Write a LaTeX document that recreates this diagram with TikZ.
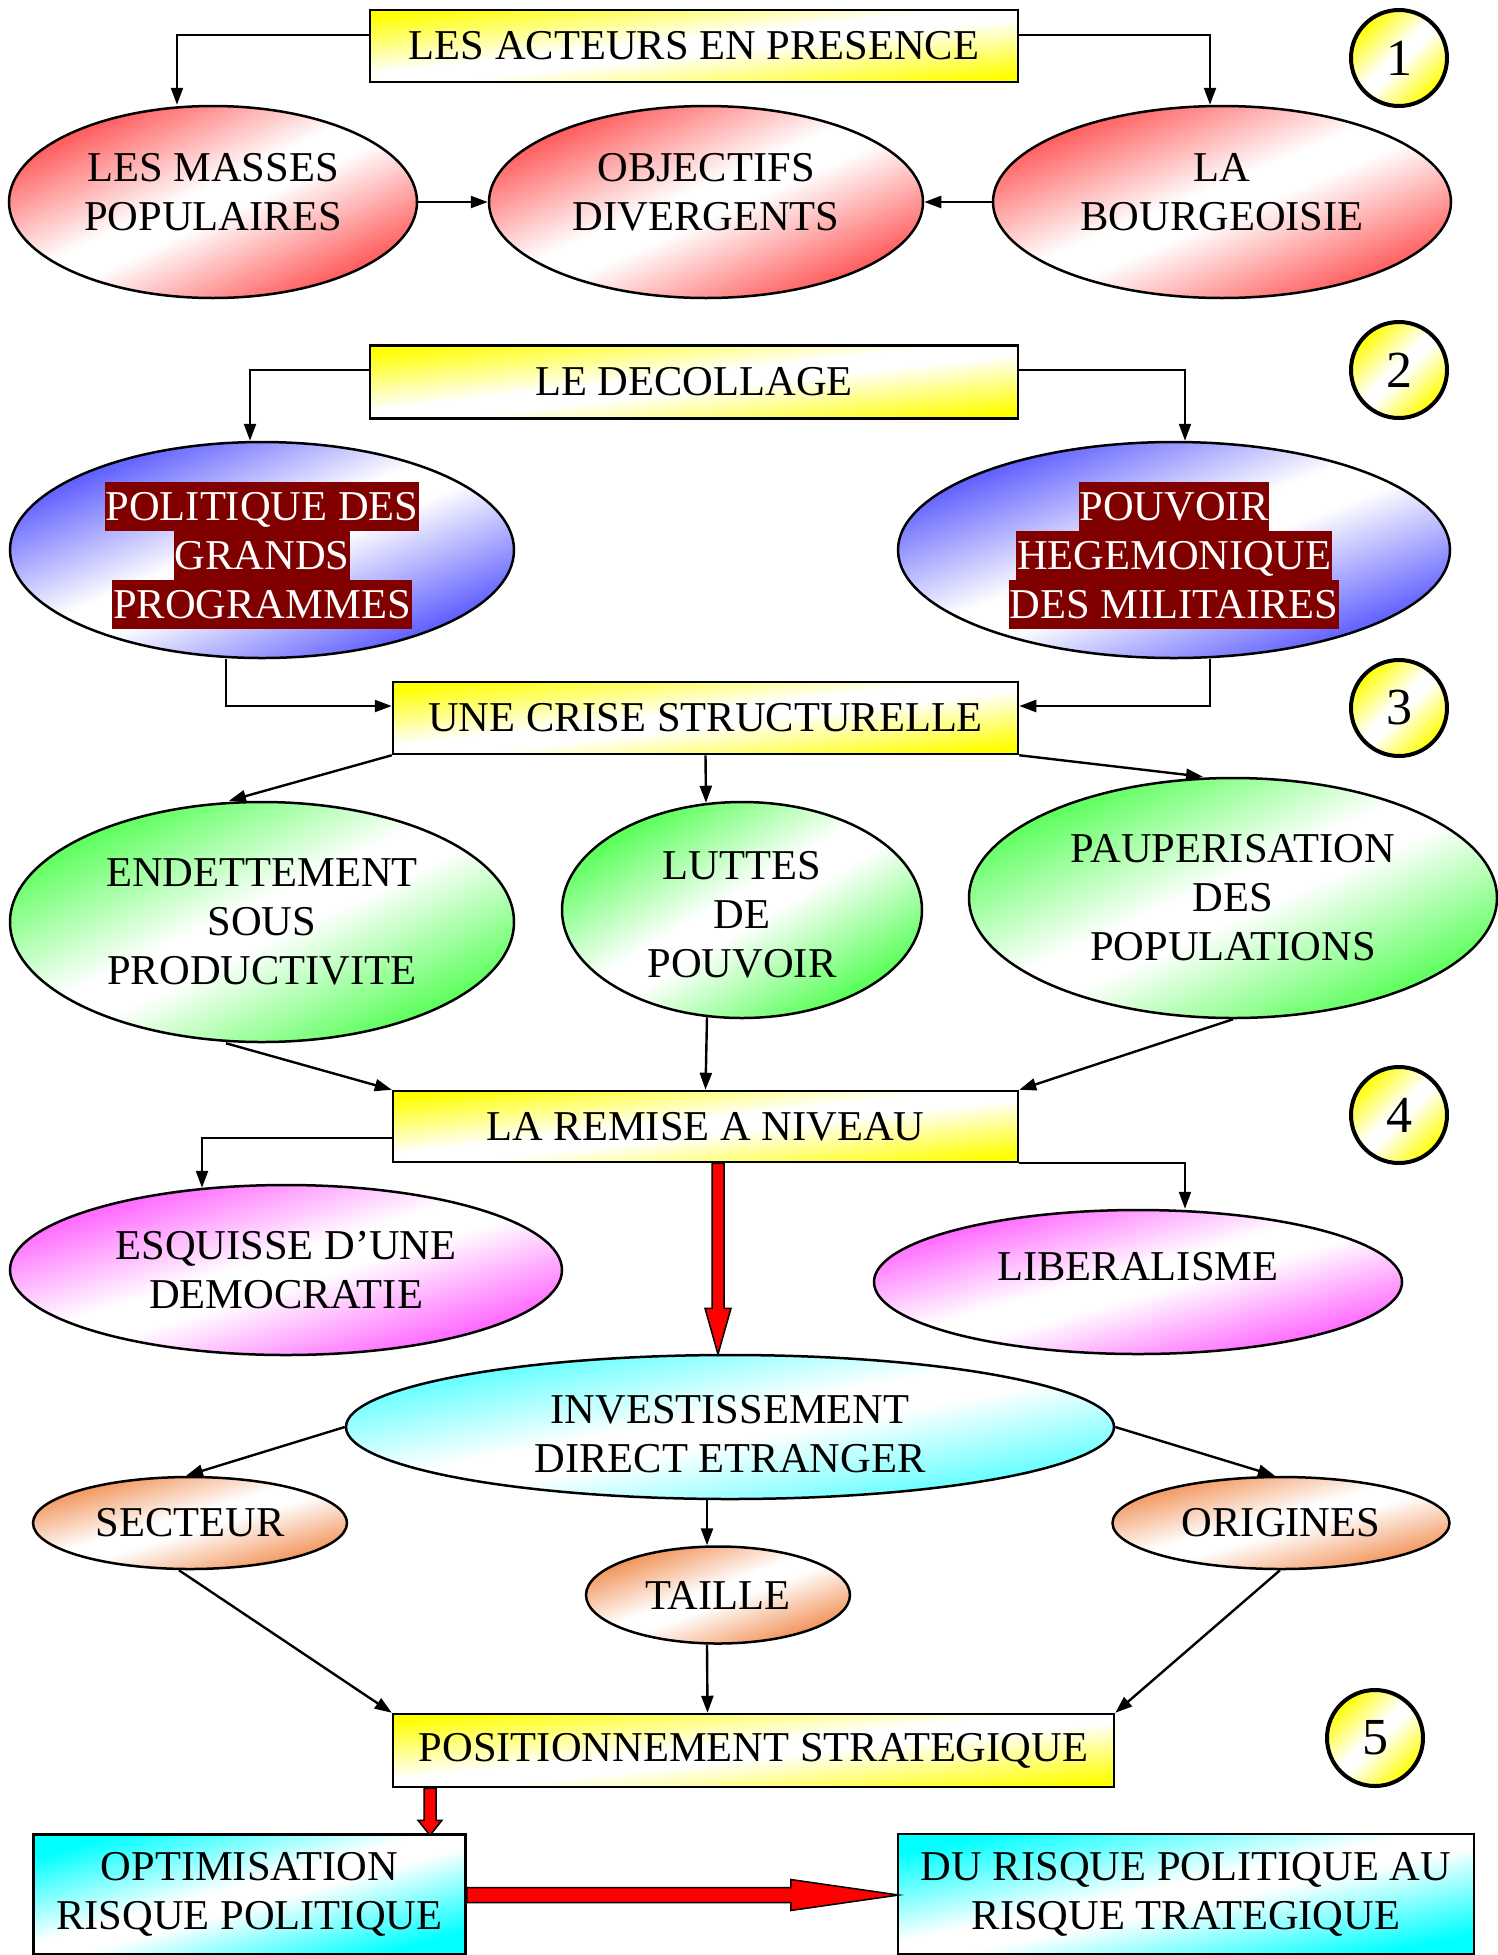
\documentclass[tikz,border=0pt]{standalone}
\usepackage{fontspec}
\setmainfont{Liberation Serif}
\usetikzlibrary{shapes.geometric,arrows.meta,calc}
\definecolor{hlred}{HTML}{800000}
\definecolor{ered}{HTML}{FF5050}
\definecolor{eblue}{HTML}{5050FF}
\definecolor{egreen}{HTML}{50FF50}
\definecolor{emag}{HTML}{FF50FF}
\definecolor{ecyan}{HTML}{40FFFF}
\definecolor{epeach}{HTML}{F08848}
\definecolor{byellow}{HTML}{FFFF00}
\definecolor{bcyan}{HTML}{00FFFF}
\colorlet{gcol}{red}
\pgfdeclareverticalshading[gcol]{diagfade}{100bp}{color(0bp)=(gcol); color(25bp)=(gcol); color(47bp)=(white); color(53bp)=(white); color(75bp)=(gcol); color(100bp)=(gcol)}
\begin{document}
\begin{tikzpicture}[x=1pt,y=-1pt,
  every node/.style={font=\fontsize{42.5}{49}\selectfont, inner sep=0pt, align=center},
  conn/.style={line width=2.4pt, -{Triangle[length=17pt,width=12pt]}},
  grad/.style={/utils/exec={\colorlet{gcol}{#1}}, shading=diagfade},
  oval/.style={ellipse, draw, line width=2.5pt, grad=#1},
  ybox/.style={rectangle, draw, line width=2.5pt, grad=byellow},
  cbox/.style={rectangle, draw, line width=2.5pt, grad=bcyan},
  numc/.style={circle, draw, line width=4pt, grad=byellow, shading angle=45, minimum size=96pt, font=\fontsize{52}{60}\selectfont},
  hl/.style={fill=hlred, text=white, inner xsep=1pt, inner ysep=0pt, text height=38.5pt, text depth=10.5pt},
  blockarrow/.style={draw, fill=red, line width=1.5pt, line join=miter}
]
\useasboundingbox (0,0) rectangle (1498,1955);

% ---- section 1
\node[ybox, shading angle=6.3, minimum width=648pt, minimum height=72pt] (acteurs) at (694,46) {LES ACTEURS EN PRESENCE};
\node[numc] (n1) at (1399,58) {1};
\node[oval=ered, shading angle=25.2, minimum width=408pt, minimum height=192pt, text depth=20pt] (masses) at (213,202) {LES MASSES\\POPULAIRES};
\node[oval=ered, shading angle=23.9, minimum width=434pt, minimum height=192pt, text depth=20pt] (obj) at (706,202) {OBJECTIFS\\DIVERGENTS};
\node[oval=ered, shading angle=22.7, minimum width=458pt, minimum height=192pt, text depth=20pt] (bourg) at (1222,202) {LA\\BOURGEOISIE};
\draw[conn] ([yshift=11pt]acteurs.west) -| ([xshift=-36pt]masses.north);
\draw[conn] ([yshift=11pt]acteurs.east) -| ([xshift=-12pt]bourg.north);
\draw[conn] (masses.east) -- (obj.west);
\draw[conn] (bourg.west) -- (obj.east);

% ---- section 2
\node[ybox, shading angle=6.4, minimum width=648pt, minimum height=73pt] (deco) at (694,382) {LE DECOLLAGE};
\node[numc] (n2) at (1399,370) {2};
\node[oval=eblue, shading angle=23.2, minimum width=504pt, minimum height=216pt] (pol) at (262,550) {};
\node[oval=eblue, shading angle=21.4, minimum width=552pt, minimum height=216pt] (pouv) at (1174,550) {};
\node[hl] (pol1) at ([yshift=44pt]pol.center) {POLITIQUE DES};
\node[hl] (pol2) at ([yshift=-5pt]pol.center) {GRANDS};
\node[hl] (pol3) at ([yshift=-54pt]pol.center) {PROGRAMMES};
\node[hl] (pouv1) at ([yshift=44pt]pouv.center) {POUVOIR};
\node[hl] (pouv2) at ([yshift=-5pt]pouv.center) {HEGEMONIQUE};
\node[hl] (pouv3) at ([yshift=-54pt]pouv.center) {DES MILITAIRES};
\draw[conn] ([yshift=12pt]deco.west) -| ([xshift=-12pt]pol.north);
\draw[conn] ([yshift=12pt]deco.east) -| ([xshift=11pt]pouv.north);

% ---- section 3
\node[ybox, shading angle=6.6, minimum width=625pt, minimum height=72pt] (crise) at (705.5,718) {UNE CRISE STRUCTURELLE};
\node[numc] (n3) at (1399,708) {3};
\draw[conn] ([xshift=-36pt]pol.south) |- ([yshift=12pt]crise.west);
\draw[conn] ([xshift=36pt]pouv.south) |- ([yshift=12pt]crise.east);
\node[oval=egreen, shading angle=25.5, minimum width=504pt, minimum height=240pt] (endet) at (262,922) {ENDETTEMENT\\SOUS\\PRODUCTIVITE};
\node[oval=egreen, shading angle=31, minimum width=360pt, minimum height=216pt] (luttes) at (742,910) {};
\node (luttes-t) at ([yshift=-5pt]luttes.center) {LUTTES\\DE\\POUVOIR};
\node[oval=egreen, shading angle=24.4, minimum width=528pt, minimum height=240pt] (paup) at (1233,898) {PAUPERISATION\\DES\\POPULATIONS};
\draw[conn] (crise.south west) -- ([xshift=-33pt]endet.north);
\draw[conn] (crise.south) -- ([xshift=-36pt,yshift=-2pt]luttes.north);
\draw[conn] (crise.south east) -- ([xshift=-30pt]paup.north);

% ---- section 4
\node[ybox, shading angle=6.5, minimum width=625pt, minimum height=71pt] (remise) at (705.5,1126.5) {LA REMISE A NIVEAU};
\node[numc] (n4) at (1399,1115) {4};
\draw[conn] ([xshift=-36pt]endet.south) -- (remise.north west);
\draw[conn] ([xshift=-35pt,yshift=2pt]luttes.south) -- (remise.north);
\draw[conn] (paup.south) -- (remise.north east);
\node[oval=emag, shading angle=17.1, minimum width=552pt, minimum height=170pt] (esq) at (286,1270) {ESQUISSE D’UNE\\DEMOCRATIE};
\node[oval=emag, shading angle=15.3, minimum width=528pt, minimum height=144pt, text depth=32pt] (lib) at (1138,1282) {LIBERALISME};
\draw[conn] ([yshift=-11.5pt]remise.west) -| ([xshift=-84pt,yshift=-4pt]esq.north);
\draw[conn] (remise.south east) -| ([xshift=47pt]lib.north);

% ---- IDE
\node[oval=ecyan, shading angle=10.6, minimum width=768pt, minimum height=144pt] (ide) at (730,1427) {};
\node (ide-t) at ([yshift=-7pt]ide.center) {INVESTISSEMENT\\DIRECT ETRANGER};
\draw[blockarrow] ([xshift=6.5pt]remise.south) -- ++(0,145) -- ++(-7,0) -- ++(13,46) -- ++(13,-46) -- ++(-7,0) -- ++(0,-145) -- cycle;
\node[oval=epeach, shading angle=16.3, minimum width=314pt, minimum height=92pt] (sect) at (190,1523) {SECTEUR};
\node[oval=epeach, shading angle=15.3, minimum width=337pt, minimum height=92pt] (orig) at (1281,1523) {ORIGINES};
\node[oval=epeach, shading angle=20.2, minimum width=264pt, minimum height=97pt] (taille) at (718,1595) {TAILLE};
\draw[conn] (ide.west) -- ([xshift=-4pt]sect.north);
\draw[conn] (ide.east) -- ([xshift=-6pt]orig.north);
\draw[conn] ([xshift=-23pt]ide.south) -- ([xshift=-11pt]taille.north);

% ---- section 5
\node[ybox, shading angle=5.8, minimum width=721pt, minimum height=73pt] (pos) at (753.5,1750.5) {POSITIONNEMENT STRATEGIQUE};
\node[numc] (n5) at (1375,1738) {5};
\draw[conn] ([xshift=-11pt]sect.south) -- (pos.north west);
\draw[conn] ([xshift=-11pt]taille.south) -- ([xshift=-46pt]pos.north);
\draw[conn] ([xshift=-1pt]orig.south) -- (pos.north east);
\node[cbox, shading angle=15.5, minimum width=432pt, minimum height=120pt] (optim) at (249.5,1894.5) {OPTIMISATION\\RISQUE POLITIQUE};
\node[cbox, shading angle=11.8, minimum width=576pt, minimum height=120pt] (risque) at (1186,1894) {DU RISQUE POLITIQUE AU\\RISQUE TRATEGIQUE};
\draw[blockarrow] ([xshift=-329.5pt]pos.south) -- ++(0,32) -- ++(-6,0) -- ++(12,15) -- ++(12,-15) -- ++(-6,0) -- ++(0,-32) -- cycle;
\draw[blockarrow] ([yshift=7pt]optim.east) -- ++(324,0) -- ++(0,-8) -- ++(108,15.5) -- ++(-108,15.5) -- ++(0,-8) -- ++(-324,0) -- cycle;
\end{tikzpicture}
\end{document}
